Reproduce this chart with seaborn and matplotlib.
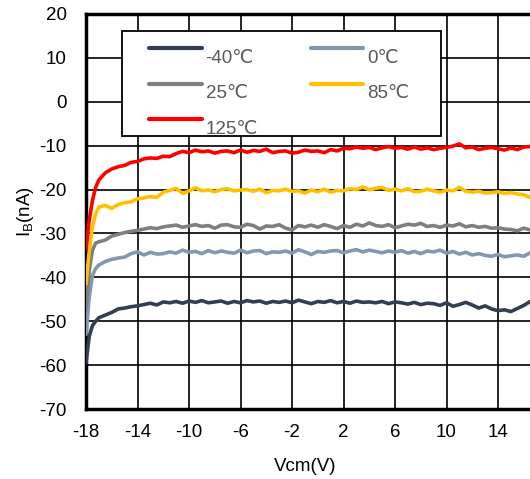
import numpy as np
import pandas as pd
import seaborn as sns
import matplotlib.pyplot as plt
from matplotlib.patches import Rectangle
from matplotlib.legend_handler import HandlerLine2D

# Vcm sweep (V)
vcm = [-18, -17.75, -17.5, -17.25, -17, -16.5, -16, -15.5,
       -15, -14.5, -14, -13.5, -13, -12.5, -12, -11.5,
       -11, -10.5, -10, -9.5, -9, -8.5, -8, -7.5,
       -7, -6.5, -6, -5.5, -5, -4.5, -4, -3.5,
       -3, -2.5, -2, -1.5, -1, -0.5, 0, 0.5,
       1, 1.5, 2, 2.5, 3, 3.5, 4, 4.5,
       5, 5.5, 6, 6.5, 7, 7.5, 8, 8.5,
       9, 9.5, 10, 10.5, 11, 11.5, 12, 12.5,
       13, 13.5, 14, 14.5, 15, 15.5, 16, 16.5]

# bias current (nA) per temperature
ib_m40 = [-59.5, -53.5, -51.0, -50.0, -49.2, -48.6, -48.0, -47.2,
          -47.0, -46.7, -46.5, -46.2, -45.9, -46.3, -45.6, -45.8,
          -45.5, -45.9, -45.4, -45.7, -45.3, -45.8, -45.6, -45.4,
          -45.9, -45.5, -45.8, -45.3, -45.6, -45.4, -45.9, -45.5,
          -45.7, -45.4, -45.8, -45.2, -45.6, -46.0, -45.5, -45.7,
          -45.3, -45.8, -45.5, -45.9, -45.4, -45.7, -45.6, -45.8,
          -45.5, -46.0, -45.6, -45.8, -46.1, -45.7, -46.2, -45.9,
          -46.0, -46.4, -45.8, -46.6, -46.2, -45.7, -46.3, -47.0,
          -46.5, -47.2, -47.6, -47.4, -47.8, -47.1, -46.4, -45.5]
ib_0 = [-53.0, -44.5, -39.5, -38.0, -37.2, -36.4, -35.9, -35.6,
        -35.4, -34.6, -34.2, -34.9, -34.3, -34.7, -34.6, -34.2,
        -34.5, -33.8, -34.3, -34.1, -34.6, -33.9, -34.4, -34.0,
        -34.3, -34.5, -33.8, -34.4, -34.0, -33.9, -34.6, -34.2,
        -34.3, -34.0, -34.5, -33.7, -34.2, -34.8, -34.1, -34.3,
        -34.0, -33.9, -34.4, -34.0, -33.7, -34.2, -33.8, -34.1,
        -34.4, -34.0, -34.3, -33.9, -34.5, -34.1, -34.6, -34.0,
        -34.2, -33.8, -34.5, -34.1, -34.7, -34.3, -34.9, -34.6,
        -35.0, -35.2, -34.8, -35.3, -35.1, -34.9, -35.2, -34.4]
ib_25 = [-47.0, -38.5, -33.8, -32.2, -31.9, -31.5, -30.6, -30.2,
         -29.8, -29.5, -29.3, -29.0, -28.7, -28.9, -28.5, -28.3,
         -28.1, -28.6, -28.3, -28.0, -28.4, -28.2, -28.8, -28.1,
         -28.0, -28.5, -28.6, -27.9, -28.2, -29.0, -28.3, -28.4,
         -28.0, -28.8, -29.2, -28.2, -28.5, -28.1, -28.6, -28.0,
         -28.4, -28.9, -28.2, -28.6, -27.9, -28.3, -27.6, -28.2,
         -28.4, -28.0, -28.7, -28.3, -27.9, -28.1, -27.7, -28.4,
         -28.2, -28.6, -28.1, -28.3, -27.8, -28.5, -28.2, -28.6,
         -28.4, -28.8, -28.7, -29.0, -29.1, -29.4, -28.8, -29.2]
ib_85 = [-41.5, -34.0, -28.5, -25.5, -24.0, -23.6, -24.3, -23.4,
         -23.0, -22.8, -22.1, -21.9, -21.6, -21.8, -20.6, -20.2,
         -19.7, -20.9, -20.3, -19.6, -20.3, -20.1, -20.5, -20.0,
         -19.8, -20.3, -20.1, -20.0, -20.4, -19.9, -20.7, -20.2,
         -20.3, -19.9, -20.4, -20.3, -20.8, -20.1, -20.5, -19.9,
         -20.6, -20.2, -20.3, -19.8, -20.0, -19.4, -20.1, -19.7,
         -19.5, -20.2, -19.9, -20.3, -19.8, -20.5, -20.4, -19.9,
         -20.3, -20.6, -20.1, -20.3, -19.5, -20.4, -20.6, -20.4,
         -20.8, -20.7, -20.5, -20.9, -20.7, -21.0, -21.2, -21.8]
ib_125 = [-33.5, -27.0, -22.5, -19.5, -17.8, -16.2, -15.3, -14.8,
          -14.5, -13.8, -13.6, -13.0, -12.8, -12.9, -12.4, -12.5,
          -11.8, -11.3, -11.6, -11.0, -11.4, -11.2, -11.7, -11.3,
          -11.2, -11.6, -11.0, -11.5, -11.1, -11.3, -10.8, -11.6,
          -11.3, -11.2, -11.7, -11.5, -11.0, -11.3, -11.2, -11.6,
          -10.9, -11.2, -10.6, -10.7, -10.3, -10.6, -10.4, -10.9,
          -10.5, -10.2, -10.6, -10.4, -10.8, -10.3, -10.8, -10.5,
          -10.9, -10.6, -10.4, -10.1, -9.6, -10.5, -10.3, -10.9,
          -10.6, -10.4, -10.7, -11.0, -10.5, -10.9, -10.3, -10.2]

labels = ['-40℃', '0℃', '25℃', '85℃', '125℃']
colors = ['#333F50', '#8497B0', '#7F7F7F', '#FFC000', '#FF0000']
series = [ib_m40, ib_0, ib_25, ib_85, ib_125]

df = pd.concat([pd.DataFrame({'Vcm': vcm, 'IB': s, 'T': lab})
                for s, lab in zip(series, labels)], ignore_index=True)


class RaisedLine(HandlerLine2D):
    # legend line sits above the middle of its label, as in the reference
    def create_artists(self, legend, orig_handle, xdescent, ydescent,
                       width, height, fontsize, trans):
        return super().create_artists(legend, orig_handle, xdescent, ydescent - 12,
                                      width, height, fontsize, trans)


sns.set_style('white')
plt.rcParams['font.family'] = ['Liberation Sans', 'DejaVu Sans']
plt.rcParams['axes.unicode_minus'] = False
plt.rcParams['mathtext.fontset'] = 'custom'
plt.rcParams['mathtext.rm'] = 'Liberation Sans'

fig = plt.figure(figsize=(5.3, 4.79), dpi=100)
ax = fig.add_axes([86 / 530, 70 / 479, 463.5 / 530, 395 / 479])

sns.lineplot(data=df, x='Vcm', y='IB', hue='T', palette=dict(zip(labels, colors)),
             linewidth=2.6, ax=ax, legend=False, zorder=3)

ax.set_xlim(-18, 18)
ax.set_ylim(-70, 20)
ax.set_xticks(range(-18, 15, 4))
ax.set_yticks(range(-70, 21, 10))
ax.grid(True, color='black', linewidth=1.2)
ax.axvline(18, color='black', linewidth=1.2)
ax.set_axisbelow(True)
for sp in ax.spines.values():
    sp.set_color('black')
    sp.set_linewidth(2.5)
ax.tick_params(axis='y', length=0, pad=14, labelsize=13.5, labelcolor='black')
ax.tick_params(axis='x', length=0, pad=11, labelsize=13.5, labelcolor='black')

ax.set_xlabel('Vcm(V)', fontsize=13.5, color='black')
ax.xaxis.set_label_coords((305 - 86) / 463.5, -0.125)
ax.set_ylabel(r'I$_\mathregular{B}$(nA)', fontsize=13.5, color='black', labelpad=2)

# legend box
box = Rectangle((122 / 530, 1 - 136 / 479), 319 / 530, 105 / 479,
                transform=fig.transFigure, facecolor='white', edgecolor='black',
                linewidth=1.3, zorder=4, clip_on=False)
ax.add_patch(box)

# row-major order like the reference: -40, 0 / 25, 85 / 125
order = [0, 2, 4, 1, 3]
handles = [plt.Line2D([], [], color=colors[i], linewidth=3) for i in order]
leg = ax.legend(handles, [labels[i] for i in order], ncol=2, loc='upper left',
                bbox_to_anchor=(149 / 530, 1 - 50 / 479), bbox_transform=fig.transFigure,
                fontsize=13.5, frameon=False, handlelength=2.8, handletextpad=0.22,
                columnspacing=2.8, labelspacing=0.97, borderpad=0,
                borderaxespad=0, handler_map={plt.Line2D: RaisedLine()})
leg.set_zorder(5)
for t in leg.get_texts():
    t.set_color('#595959')

fig.savefig('out.png', dpi=100)
